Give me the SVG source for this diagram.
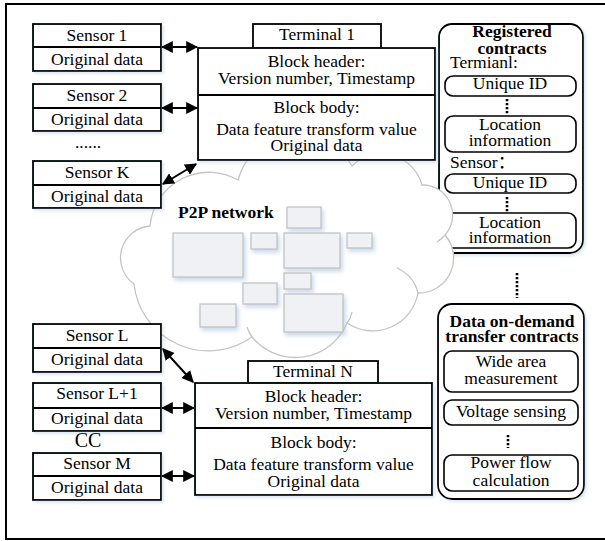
<svg xmlns="http://www.w3.org/2000/svg" width="605" height="541" viewBox="0 0 605 541">
<style>
text{font-family:"Liberation Serif","Times New Roman","Noto Sans CJK SC",serif;font-size:17.5px;fill:#000}
.c{text-anchor:middle}
.b{font-weight:bold}
.box{fill:#fff;stroke:#000;stroke-width:1.8}
.rb{fill:#fff;stroke:#000;stroke-width:1.6}
.cl{fill:#fff;stroke:#c4c4c4;stroke-width:1.3}
.cli{fill:none;stroke:#c4c4c4;stroke-width:1.3}
.nr{fill:#eff1f4;stroke:#c4c4c4;stroke-width:1.3}
.ar{stroke:#000;stroke-width:2;fill:none;marker-start:url(#ah);marker-end:url(#ah)}
.dots{stroke:#000;stroke-width:2.6;stroke-dasharray:2.2 1.8;fill:none}
</style>
<defs>
<marker id="ah" viewBox="0 0 10 10" refX="9" refY="5" markerWidth="6" markerHeight="6" orient="auto-start-reverse" markerUnits="strokeWidth">
<path d="M0,0 L10,5 L0,10 Z" fill="#000"/>
</marker>
<filter id="sh" x="-20%" y="-20%" width="150%" height="150%">
<feDropShadow dx="2" dy="3" stdDeviation="2" flood-color="#a8c0e0" flood-opacity="0.6"/>
</filter>
<filter id="bs" x="-10%" y="-10%" width="130%" height="130%">
<feDropShadow dx="2" dy="2" stdDeviation="1.5" flood-color="#a8c0e0" flood-opacity="0.4"/>
</filter>
</defs>

<rect x="6" y="4" width="610" height="535" fill="#fff" stroke="#000" stroke-width="2"/>

<g id="registered-contracts">
<rect class="box" x="439" y="24" width="144" height="229" rx="13" filter="url(#bs)"/>
<text class="c b" x="512" y="37">Registered</text>
<text class="c b" x="512" y="54">contracts</text>
<text x="450" y="68">Termianl:</text>
<rect class="rb" x="445" y="76" width="131" height="20" rx="8"/>
<text class="c" x="510" y="89">Unique ID</text>
<line class="dots" x1="507" y1="99" x2="507" y2="114"/>
<rect class="rb" x="445" y="116" width="131" height="36" rx="8"/>
<text class="c" x="510" y="130">Location</text>
<text class="c" x="510" y="146">information</text>
<text x="450" y="168">Sensor：</text>
<rect class="rb" x="445" y="174" width="131" height="19" rx="8"/>
<text class="c" x="510" y="188">Unique ID</text>
<line class="dots" x1="507" y1="197" x2="507" y2="212"/>
<rect class="rb" x="445" y="213" width="131" height="35" rx="8"/>
<text class="c" x="510" y="228">Location</text>
<text class="c" x="510" y="243">information</text>
</g>

<g id="p2p-network">
<path class="cl" d="M150,226 A59,59 0 0 1 238,180 A62,62 0 0 1 352,166 A42,42 0 0 1 422,185 A30,30 0 0 1 445,235 A35,35 0 0 1 418,293 A46,46 0 0 1 347,323 A56,56 0 0 1 252,337 A75,75 0 0 1 134,284 A32,32 0 0 1 150,226 Z"/>
<path class="cli" d="M445,235 Q442,239 437,242 M397,268 Q414,276 418,293 M352,312 Q351,318 347,323 M247,327 Q249,333 252,337"/>
<g filter="url(#sh)">
<rect class="nr" x="287" y="207" width="34" height="21"/>
<rect class="nr" x="173" y="233" width="70" height="44"/>
<rect class="nr" x="251" y="233" width="26" height="16"/>
<rect class="nr" x="284" y="233" width="56" height="35"/>
<rect class="nr" x="347" y="233" width="25" height="15"/>
<rect class="nr" x="284" y="273" width="27" height="16"/>
<rect class="nr" x="243" y="283" width="34" height="21"/>
<rect class="nr" x="200" y="304" width="36" height="23"/>
<rect class="nr" x="284" y="294" width="59" height="38"/>
</g>
<text class="b" x="178" y="218">P2P network</text>
</g>

<g id="sensor-1">
<rect class="box" x="33" y="24" width="128" height="47" filter="url(#bs)"/>
<line class="box" x1="33" y1="47" x2="161" y2="47"/>
<text class="c" x="97" y="41">Sensor 1</text>
<text class="c" x="97" y="65">Original data</text>
</g>
<g id="sensor-2">
<rect class="box" x="33" y="84" width="128" height="47" filter="url(#bs)"/>
<line class="box" x1="33" y1="108" x2="161" y2="108"/>
<text class="c" x="97" y="101">Sensor 2</text>
<text class="c" x="97" y="125">Original data</text>
</g>
<text class="c" x="88" y="148">......</text>
<g id="sensor-k">
<rect class="box" x="33" y="161" width="128" height="47" filter="url(#bs)"/>
<line class="box" x1="33" y1="185" x2="161" y2="185"/>
<text class="c" x="97" y="178">Sensor K</text>
<text class="c" x="97" y="202">Original data</text>
</g>

<g id="terminal-1">
<rect class="box" x="253" y="24" width="128" height="24"/>
<text class="c" x="317" y="40">Terminal 1</text>
<rect class="box" x="198" y="48" width="237" height="112" filter="url(#bs)"/>
<line class="box" x1="198" y1="95" x2="435" y2="95"/>
<text class="c" x="316.5" y="67">Block header:</text>
<text class="c" x="316.5" y="84">Version number, Timestamp</text>
<text class="c" x="316.5" y="113">Block body:</text>
<text class="c" x="316.5" y="135">Data feature transform value</text>
<text class="c" x="316.5" y="151">Original data</text>
</g>

<g id="sensor-l">
<rect class="box" x="33" y="324" width="128" height="48" filter="url(#bs)"/>
<line class="box" x1="33" y1="348" x2="161" y2="348"/>
<text class="c" x="97" y="341">Sensor L</text>
<text class="c" x="97" y="365">Original data</text>
</g>
<g id="sensor-l1">
<rect class="box" x="33" y="383" width="128" height="48" filter="url(#bs)"/>
<line class="box" x1="33" y1="408" x2="161" y2="408"/>
<text class="c" x="97" y="399">Sensor L+1</text>
<text class="c" x="97" y="424">Original data</text>
</g>
<text class="c" x="88" y="447" style="font-size:20px">CC</text>
<g id="sensor-m">
<rect class="box" x="33" y="453" width="128" height="47" filter="url(#bs)"/>
<line class="box" x1="33" y1="476" x2="161" y2="476"/>
<text class="c" x="97" y="469">Sensor M</text>
<text class="c" x="97" y="493">Original data</text>
</g>

<g id="terminal-n">
<rect class="box" x="248" y="361" width="130" height="22"/>
<text class="c" x="313" y="377">Terminal N</text>
<rect class="box" x="195" y="383" width="237" height="112" filter="url(#bs)"/>
<line class="box" x1="195" y1="428" x2="432" y2="428"/>
<text class="c" x="313.5" y="402">Block header:</text>
<text class="c" x="313.5" y="419">Version number, Timestamp</text>
<text class="c" x="313.5" y="448">Block body:</text>
<text class="c" x="313.5" y="470">Data feature transform value</text>
<text class="c" x="313.5" y="487">Original data</text>
</g>

<line class="dots" x1="517" y1="273" x2="517" y2="298"/>

<g id="data-contracts">
<rect class="box" x="438" y="304" width="146" height="195" rx="14" filter="url(#bs)"/>
<text class="c b" x="512" y="327">Data on-demand</text>
<text class="c b" x="512" y="342">transfer contracts</text>
<rect class="rb" x="444" y="351" width="134" height="41" rx="8"/>
<text class="c" x="511" y="367">Wide area</text>
<text class="c" x="511" y="384">measurement</text>
<rect class="rb" x="444" y="400" width="134" height="25" rx="8"/>
<text class="c" x="511" y="417">Voltage sensing</text>
<line class="dots" x1="508" y1="435" x2="508" y2="448"/>
<rect class="rb" x="444" y="455" width="134" height="36" rx="8"/>
<text class="c" x="511" y="468">Power flow</text>
<text class="c" x="511" y="486">calculation</text>
</g>

<g id="connectors">
<line class="ar" x1="162" y1="47" x2="197" y2="47"/>
<line class="ar" x1="162" y1="108" x2="197" y2="108"/>
<line class="ar" x1="163" y1="184" x2="196" y2="164"/>
<line class="ar" x1="163" y1="349" x2="193" y2="382"/>
<line class="ar" x1="162" y1="408" x2="194" y2="408"/>
<line class="ar" x1="162" y1="476" x2="194" y2="476"/>
</g>
</svg>
